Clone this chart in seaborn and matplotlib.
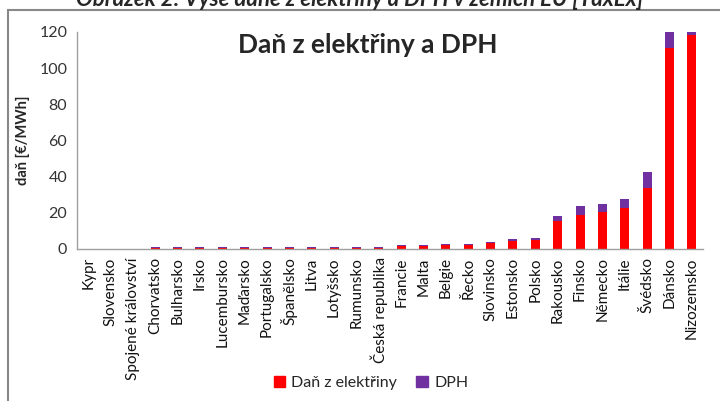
import matplotlib
matplotlib.use("Agg")
import matplotlib.pyplot as plt
import seaborn as sns
import pandas as pd
import numpy as np
from matplotlib.patches import Rectangle, Patch

countries = ["Kypr", "Slovensko", "Spojené království", "Chorvatsko", "Bulharsko", "Irsko",
             "Lucembursko", "Maďarsko", "Portugalsko", "Španělsko", "Litva", "Lotyšsko",
             "Rumunsko", "Česká republika", "Francie", "Malta", "Belgie", "Řecko",
             "Slovinsko", "Estonsko", "Polsko", "Rakousko", "Finsko", "Německo",
             "Itálie", "Švédsko", "Dánsko", "Nizozemsko"]
dan_elektriny = [0, 0, 0, 0.7, 0.7, 0.7, 0.7, 0.7, 0.7, 0.7, 0.7, 0.7,
                 0.7, 0.7, 1.6, 1.6, 2.0, 2.4, 3.1, 4.4, 5.0, 15.3, 19.0, 20.7,
                 22.9, 34.0, 111.4, 118.2]
dph = [0, 0, 0, 0.5, 0.5, 0.5, 0.5, 0.5, 0.5, 0.5, 0.5, 0.5,
       0.6, 0.6, 0.4, 0.4, 0.5, 0.4, 0.6, 0.9, 0.9, 2.8, 4.6, 4.0,
       4.6, 8.4, 8.6, 1.8]
yticks = [0, 20, 40, 60, 80, 100, 120]

df = pd.DataFrame({"zeme": countries, "dan": dan_elektriny, "dph": dph})
df["celkem"] = df["dan"] + df["dph"]

sns.set_style("white")
plt.rcParams["font.family"] = ["Lato", "DejaVu Sans"]

fig = plt.figure(figsize=(7.2, 4.01), dpi=100)
ax = fig.add_axes([77 / 720, 1 - 249 / 401, (703 - 77) / 720, (249 - 32) / 401])

RED = "#FF0000"
PURPLE = "#7030A0"
sns.barplot(data=df, x="zeme", y="celkem", order=countries, color=PURPLE,
            width=0.4, saturation=1, ax=ax, linewidth=0)
sns.barplot(data=df, x="zeme", y="dan", order=countries, color=RED,
            width=0.4, saturation=1, ax=ax, linewidth=0)

ax.set_xlim(-0.5, len(countries) - 0.5)
ax.set_ylim(0, 120)
ax.set_yticks(yticks)
ax.set_yticklabels([str(v) for v in yticks], fontsize=11.5, color="#333333")
ax.set_xticks(range(len(countries)))
ax.set_xticklabels(countries, rotation=90, fontsize=11, color="#111111")
ax.tick_params(axis="x", length=0, pad=6)
ax.set_xticks(np.arange(-0.5, len(countries), 1.0), minor=True)
ax.tick_params(axis="x", which="minor", length=4, color="#A0A0A0", width=1, direction="out")
ax.tick_params(axis="y", length=4, color="#A0A0A0", width=1, direction="out", pad=3)
ax.set_xlabel("")
ax.set_ylabel("daň [€/MWh]", fontsize=10.5, fontweight="bold", labelpad=7)
for s in ["top", "right"]:
    ax.spines[s].set_visible(False)
for s in ["left", "bottom"]:
    ax.spines[s].set_color("#A0A0A0")
    ax.spines[s].set_linewidth(1)

ax.text(0.465, 0.94, "Daň z elektřiny a DPH", transform=ax.transAxes,
        ha="center", va="center", fontsize=19, fontweight="bold")

handles = [Patch(color=RED, label="Daň z elektřiny"), Patch(color=PURPLE, label="DPH")]
fig.legend(handles=handles, loc="center", bbox_to_anchor=(371 / 720, 1 - 383 / 401),
           ncol=2, frameon=False, fontsize=11.5, handlelength=0.7, handleheight=0.7,
           columnspacing=1.2, handletextpad=0.4)

fig.patches.append(Rectangle((8 / 720, -0.1), 1.2, (1 - 10 / 401) + 0.1,
                             transform=fig.transFigure, fill=False,
                             edgecolor="#888888", linewidth=1.5))
fig.text(0.5, 1 - 6 / 401, "Obrázek 2: Výše daně z elektřiny a DPH v zemích EU [TaxEx]",
         ha="center", va="baseline", fontsize=16, fontweight="bold", style="italic")

fig.savefig("out.png", dpi=100)
